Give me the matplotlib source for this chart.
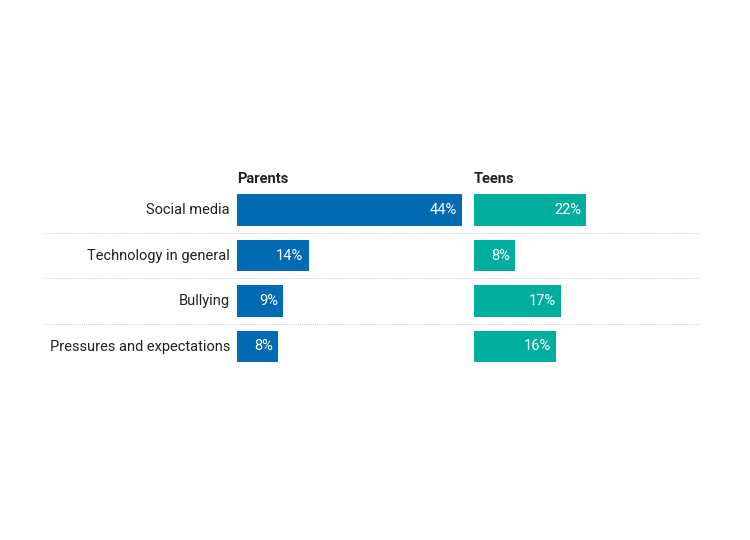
import matplotlib
matplotlib.use("Agg")
import matplotlib.pyplot as plt

categories = ["Social media", "Technology in general", "Bullying", "Pressures and expectations"]
parents = [44, 14, 9, 8]
teens = [22, 8, 17, 16]
groups = ["Parents", "Teens"]

plt.rcParams['font.family'] = ['Roboto', 'DejaVu Sans']

W, H = 750, 540
fig = plt.figure(figsize=(7.5, 5.4), dpi=100)

px_per = 5.11
top_px = 187.25
bot_px = 187.25 + 45.5 * 4

def ax_at(x0, x1):
    return fig.add_axes([x0 / W, 1 - bot_px / H, (x1 - x0) / W, (bot_px - top_px) / H])

# separator axis
bg = ax_at(45, 700)
bg.set_xlim(0, 1)
bg.set_ylim(len(categories) - 0.5, -0.5)
for i in range(len(categories) - 1):
    bg.axhline(i + 0.5, color="#c8c8c8", lw=0.7, ls=(0, (1, 1.2)))
bg.axis("off")

colors = ["#006bb3", "#00ad9f"]
data = [parents, teens]
starts = [237, 474]
ends = [474, 700]
for k in range(2):
    ax = ax_at(starts[k], ends[k])
    ax.set_xlim(0, (ends[k] - starts[k]) / px_per)
    ax.set_ylim(len(categories) - 0.5, -0.5)
    ax.barh(range(len(categories)), data[k], height=0.7, color=colors[k], edgecolor="none")
    for i, v in enumerate(data[k]):
        ax.text(v - 1.0, i, f"{v}%", color="white", ha="right", va="center", fontsize=10.5)
    ax.text(0, -0.5 - 0.02, groups[k], ha="left", va="bottom", fontsize=10.5, fontweight="bold", color="#222222")
    ax.axis("off")
    if k == 0:
        for i, c in enumerate(categories):
            ax.text(-7 / px_per, i, c, ha="right", va="center", fontsize=10.5, color="#222222")

fig.savefig("out.png", dpi=100)
